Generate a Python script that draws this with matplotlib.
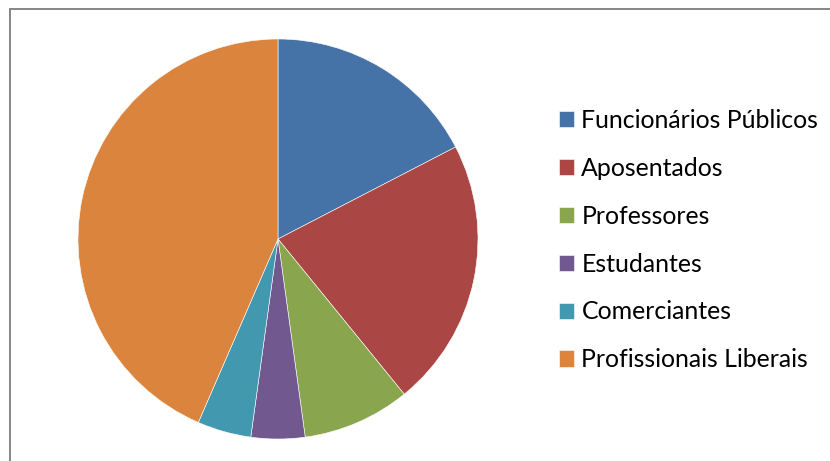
import matplotlib.pyplot as plt
from matplotlib.patches import Rectangle

# -----------------------
# Data
# -----------------------
labels = ["Funcionários Públicos", "Aposentados", "Professores",
          "Estudantes", "Comerciantes", "Profissionais Liberais"]
values = [4, 5, 2, 1, 1, 10]
colors = ["#4572A7", "#AA4643", "#89A54E", "#71588F", "#4198AF", "#DB843D"]

plt.rcParams["font.family"] = ["Lato", "DejaVu Sans"]

W, H = 830, 461
fig = plt.figure(figsize=(W / 100, H / 100), dpi=100)

# outer chart frame (cut off at right and bottom like the original)
fig.patches.append(Rectangle((9.5 / W, -0.1), 2.0, 1.1 - 9.5 / H,
                             transform=fig.transFigure, fill=False,
                             edgecolor="#868686", lw=1.4))

# pie axes: center (278, 239), radius 200 px
cx, cy, r = 278, 239, 200
ax = fig.add_axes([(cx - r) / W, (H - cy - r) / H, 2 * r / W, 2 * r / H])
wedges, _ = ax.pie(values, colors=colors, startangle=90, counterclock=False,
                   radius=1, wedgeprops=dict(edgecolor="white", linewidth=0.4))
ax.set_xlim(-1, 1)
ax.set_ylim(-1, 1)
ax.set_aspect("equal")
ax.axis("off")

fs = 17.9
fig.legend(wedges, labels, loc="upper left",
           bbox_to_anchor=(559 / W, 1 - 109 / H),
           frameon=False, fontsize=fs, borderpad=0, borderaxespad=0,
           handlelength=0.62, handleheight=0.62, handletextpad=0.28,
           labelspacing=1.0)

plt.savefig("out.png", dpi=100)
